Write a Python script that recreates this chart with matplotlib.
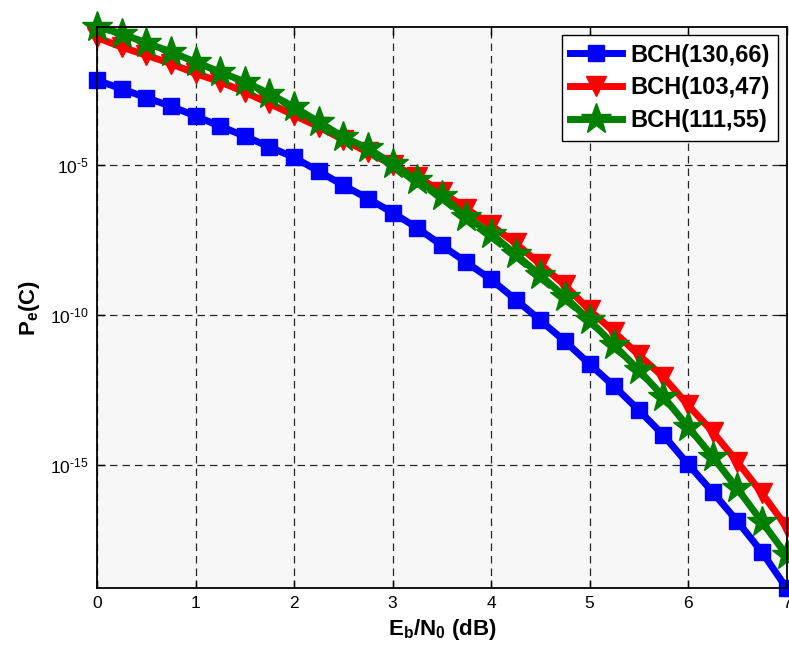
import numpy as np
import matplotlib
matplotlib.use("Agg")
import matplotlib.pyplot as plt
from matplotlib.ticker import FixedLocator, NullLocator, FixedFormatter

plt.rcParams['font.family'] = ['Liberation Sans', 'DejaVu Sans']
plt.rcParams['mathtext.fontset'] = 'custom'
plt.rcParams['mathtext.rm'] = 'Liberation Sans'
plt.rcParams['mathtext.it'] = 'Liberation Sans'
plt.rcParams['mathtext.bf'] = 'Liberation Sans:bold'

ebn0 = [0, 0.25, 0.5, 0.75, 1.0, 1.25, 1.5, 1.75, 2.0, 2.25, 2.5, 2.75, 3.0, 3.25, 3.5,
        3.75, 4.0, 4.25, 4.5, 4.75, 5.0, 5.25, 5.5, 5.75, 6.0, 6.25, 6.5, 6.75, 7.0]

log_bch_130_66 = [-2.17, -2.45, -2.75, -3.03, -3.36, -3.70, -4.03, -4.39, -4.74, -5.20,
                  -5.67, -6.11, -6.58, -7.09, -7.67, -8.24, -8.81, -9.48, -10.17, -10.87,
                  -11.63, -12.37, -13.17, -14.00, -14.97, -15.90, -16.87, -17.90, -19.10]
log_bch_103_47 = [-0.74, -1.06, -1.33, -1.61, -1.94, -2.22, -2.56, -2.94, -3.33, -3.72,
                  -4.15, -4.57, -4.98, -5.38, -5.89, -6.45, -7.00, -7.60, -8.30, -9.00,
                  -9.83, -10.56, -11.33, -12.06, -13.00, -13.89, -14.89, -15.94, -17.06]
log_bch_111_55 = [-0.39, -0.61, -0.92, -1.22, -1.56, -1.89, -2.22, -2.61, -3.06, -3.55,
                  -4.06, -4.44, -4.95, -5.50, -6.03, -6.72, -7.28, -7.97, -8.67, -9.39,
                  -10.17, -11.00, -11.83, -12.72, -13.72, -14.72, -15.78, -16.89, -18.00]

labels = ['BCH(130,66)', 'BCH(103,47)', 'BCH(111,55)']
ytick_exps = [-15, -10, -5]
xticks = [0, 1, 2, 3, 4, 5, 6, 7]

fig = plt.figure(figsize=(7.89, 6.57), dpi=100)
ax = fig.add_axes([97/789, 1 - 588/657, (786.5 - 97)/789, (588 - 27)/657])
ax.set_facecolor('#f7f7f7')

x = np.array(ebn0)
ax.semilogy(x, 10**np.array(log_bch_130_66), color='#0000ff', lw=5, marker='s',
            markersize=11, markeredgecolor='#0000ff', label=labels[0], clip_on=False, zorder=3)
ax.semilogy(x, 10**np.array(log_bch_103_47), color='#ff0000', lw=5, marker='v',
            markersize=14, markeredgecolor='#ff0000', label=labels[1], clip_on=False, zorder=3)
ax.semilogy(x, 10**np.array(log_bch_111_55), color='#008000', lw=5, marker='*',
            markersize=23, markeredgecolor='#008000', label=labels[2], clip_on=False, zorder=3)

ax.set_xlim(0, 7)
ax.set_ylim(10**log_bch_130_66[-1], 10**log_bch_111_55[0])
ax.xaxis.set_major_locator(FixedLocator(xticks))
ax.yaxis.set_major_locator(FixedLocator([10.0**e for e in ytick_exps]))
ax.yaxis.set_minor_locator(NullLocator())
hyph = '\u2010'
ax.yaxis.set_major_formatter(FixedFormatter(
    ['$10^{' + hyph + str(-e) + '}$' for e in ytick_exps]))
ax.tick_params(axis='both', which='major', labelsize=12.5, direction='in', length=6,
               width=1, top=True, right=True, pad=6)
ax.grid(True, which='major', color='#262626', linestyle=(0, (6, 4)), lw=0.9)
for s in ax.spines.values():
    s.set_linewidth(1.3)
    s.set_color('black')
    s.set_zorder(4)

ax.set_xlabel(r'$\mathbf{E_b/N_0}$ (dB)', fontsize=16, fontweight='bold', labelpad=4)
ax.set_ylabel(r'$\mathbf{P_e}$(C)', fontsize=16, fontweight='bold', labelpad=6)

leg = ax.legend(loc='upper right', prop={'weight': 'bold', 'size': 17},
                frameon=True, fancybox=False, edgecolor='black', facecolor='white',
                framealpha=1, borderpad=0.35, handlelength=2.2, labelspacing=0.42,
                borderaxespad=0.35, handletextpad=0.35)
leg.get_frame().set_linewidth(1.0)
leg.set_zorder(5)

fig.savefig('out.png', dpi=100, facecolor='white')
